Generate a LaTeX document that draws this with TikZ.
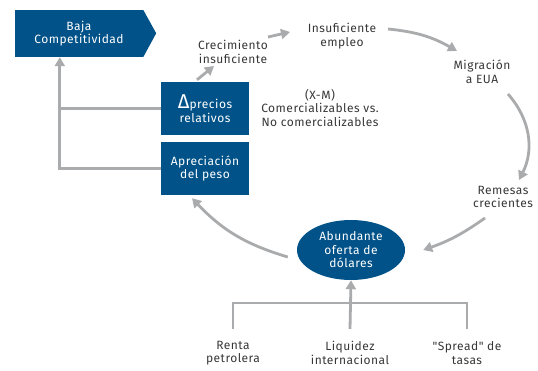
\documentclass[tikz,border=0pt]{standalone}
\usepackage{fontspec}
\setmainfont{Fira Sans}[LetterSpace=4, Ligatures=TeXOff]
\usetikzlibrary{arrows.meta,shapes.geometric,positioning}

\definecolor{azul}{RGB}{0,82,136}
\definecolor{gris}{RGB}{170,171,173}
\definecolor{texto}{RGB}{55,55,55}

\begin{document}
\begin{tikzpicture}[x=1pt,y=1pt, font=\fontsize{12}{13.5}\selectfont,
  caja/.style={fill=azul, text=white, align=center, minimum width=88pt, minimum height=53pt, inner sep=0pt},
  etq/.style={text=texto, align=center, inner sep=1pt},
  linea/.style={draw=gris, line width=2.8pt},
  flecha/.style={linea, -{Triangle[length=9pt,width=10pt]}}]
\useasboundingbox (0,0) rectangle (538,-371);
% cajas
\node[caja, minimum width=128pt, minimum height=47pt] (baja) at (79,-33.5) {Baja\\Competitividad};
\fill[azul] (baja.north east) -- ++(13,-23.5) -- (baja.south east) -- cycle;
\node[caja] (delta) at (205,-108.5) {{\fontsize{20}{13.5}\selectfont Δ}precios\\relativos};
\node[caja] (aprec) at (205,-168.5) {Apreciación\\del peso};
\node[ellipse, fill=azul, text=white, align=center, minimum width=108pt, minimum height=60pt, inner sep=0pt] (oferta) at (351,-250) {Abundante\\oferta de\\dólares};
% textos
\node[etq] (crec) at (233,-52) {Crecimiento\\insuficiente};
\node[etq] (insuf) at (342,-36) {Insuficiente\\empleo};
\node[etq] (migr) at (482,-72) {Migración\\a EUA};
\node[etq] (rem) at (503,-197) {Remesas\\crecientes};
\node[etq] (xm) at (320,-108) {(X-M)\\Comercializables vs.\\No comercializables};
\foreach \n/\x/\t in {renta/233/{Renta\\petrolera}, liquidez/350/{Liquidez\\internacional}, spread/467/{"Spread" de\\tasas}} { \node[etq] (\n) at (\x,-353) {\t}; }
% izquierda
\coordinate (izq) at ([xshift=45pt]baja.south west);
\draw[linea] (delta.west) -- (delta.west -| izq);
\draw[flecha] (aprec.west) -| (izq);
% ciclo
\draw[flecha] ([shift={(-8,2)}]delta.north) -- ([shift={(-19,-14)}]crec.center);
\draw[flecha] ([shift={(35,15)}]crec.center) -- ([shift={(-52,4)}]insuf.center);
\draw[flecha] ([shift={(46,7)}]insuf.center) to[bend left=12] ([shift={(-25,21)}]migr.center);
\draw[flecha] ([shift={(26,-22)}]migr.center) to[bend left=34] ([shift={(16,17)}]rem.center);
\draw[flecha] ([shift={(-18,-21)}]rem.center) to[bend left=8] ([xshift=18pt]oferta.east);
\draw[flecha] ([shift={(-9,-7)}]oferta.west) to[bend left=15] ([shift={(-13,-3)}]aprec.south);
% abajo
\draw[linea] ([yshift=24pt]renta.center) -- ++(0,26) -| ([yshift=24pt]spread.center);
\draw[flecha] ([yshift=24pt]liquidez.center) -- (oferta.south);
\end{tikzpicture}
\end{document}
